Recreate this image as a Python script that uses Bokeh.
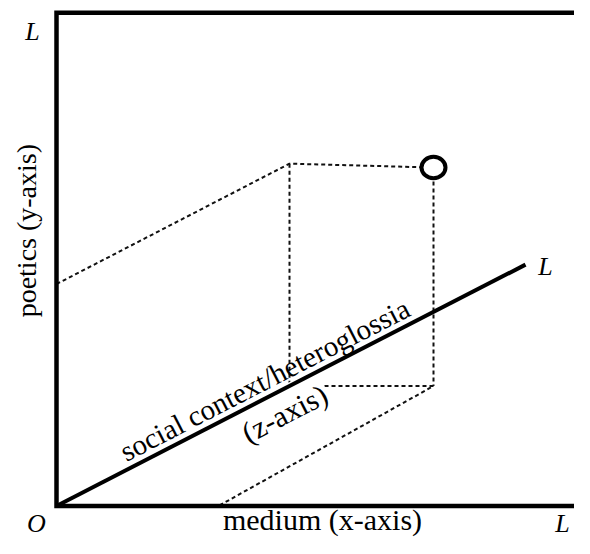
import math
from bokeh.plotting import figure
from bokeh.models import Range1d
from bokeh.core.properties import value
from bokeh.embed import file_html
from bokeh.resources import INLINE

# Diagram coordinates: origin at O, one unit = one pixel of the original, v upward
AXIS_X_END = 600          # medium (x) axis runs past the right edge
AXIS_Y_END = 508          # poetics (y) axis length
Z_END_U, Z_END_V = 469, 248.5   # end of social context (z) axis

# projections of the plotted point P
P_U, P_V = 377, 348.5
YZ_CORNER = (233, 352.5)
Y_ON_AXIS = (0, 228.5)
Z_ON_AXIS = (233, 123.5)
XZ_CORNER = (377, 123.5)
X_ON_AXIS = (162, 0)

# label positions (diagram units)
L_U = [-24, 489, 506]
L_V = [489, 246.5, -18]
O_U, O_V = [-20], [-18]

W, H = 574, 538
X0, X1 = -56, 518
Y0, Y1 = -33.5, 520.5
SX = W / (X1 - X0)
SY = H / (Y1 - Y0)

SERIF = value("Liberation Serif")
theta = math.atan2(Z_END_V * SY, Z_END_U * SX)   # on-screen angle of the z axis
slope = Z_END_V / Z_END_U


def along_z(u_line, offset):
    """point on the z axis at u_line, shifted perpendicular by offset screen px"""
    v_line = u_line * slope
    return (u_line - offset * math.sin(theta) / SX,
            v_line + offset * math.cos(theta) / SY)


p = figure(width=W, height=H,
           x_range=Range1d(X0, X1), y_range=Range1d(Y0, Y1),
           output_backend="svg", toolbar_location=None,
           x_axis_type=None, y_axis_type=None, min_border=0,
           outline_line_color=None, background_fill_color="white",
           border_fill_color="white")

# dashed projection lines
xs = [[Y_ON_AXIS[0], YZ_CORNER[0], P_U],
      [YZ_CORNER[0], Z_ON_AXIS[0]],
      [Z_ON_AXIS[0], XZ_CORNER[0], X_ON_AXIS[0]],
      [P_U, XZ_CORNER[0]]]
ys = [[Y_ON_AXIS[1], YZ_CORNER[1], P_V],
      [YZ_CORNER[1], Z_ON_AXIS[1]],
      [Z_ON_AXIS[1], XZ_CORNER[1], X_ON_AXIS[1]],
      [P_V, XZ_CORNER[1]]]
p.multi_line(xs, ys, line_color="#111111", line_width=2, line_dash="4 3",
             line_join="round")

# z axis labels
zu, zv = along_z(218.8, -17.5)
p.text(x=[zu], y=[zv], text=["(z-axis)"], angle=theta,
       text_font=SERIF, text_font_size="30px", text_align="center",
       text_baseline="middle", text_color="black",
       background_fill_color="white",
       padding=dict(left=0, right=2, top=9, bottom=0))
su, sv = along_z(216, 17)
p.text(x=[su], y=[sv], text=["social context/heteroglossia"], angle=theta,
       text_font=SERIF, text_font_size="29px", text_align="center",
       text_baseline="alphabetic", text_color="black")

# frame (x and y axes)
p.line(x=[AXIS_X_END, 0, 0, AXIS_X_END], y=[AXIS_Y_END, AXIS_Y_END, 0, 0],
       line_color="black", line_width=4.5, line_join="miter")
# z axis
p.line(x=[0, Z_END_U], y=[0, Z_END_V], line_color="black", line_width=4)

# the point
p.ellipse(x=[P_U], y=[P_V], width=24, height=22, fill_color="white",
          line_color="black", line_width=4)

# axis titles
p.text(x=[-30], y=[283.5], text=["poetics (y-axis)"], angle=math.pi / 2,
       text_font=SERIF, text_font_size="28px", text_align="center",
       text_baseline="middle", text_color="black")
p.text(x=[266], y=[-13.5], text=["medium (x-axis)"],
       text_font=SERIF, text_font_size="30px", text_align="center",
       text_baseline="middle", text_color="black")

# L / O end labels
p.text(x=L_U, y=L_V, text=["L"] * len(L_U), text_font=SERIF,
       text_font_size="26px", text_font_style="italic", text_align="center",
       text_baseline="middle", text_color="black")
p.text(x=O_U, y=O_V, text=["O"], text_font=SERIF,
       text_font_size="26px", text_font_style="italic", text_align="center",
       text_baseline="middle", text_color="black")

open("out.html", "w").write(file_html(p, INLINE))
